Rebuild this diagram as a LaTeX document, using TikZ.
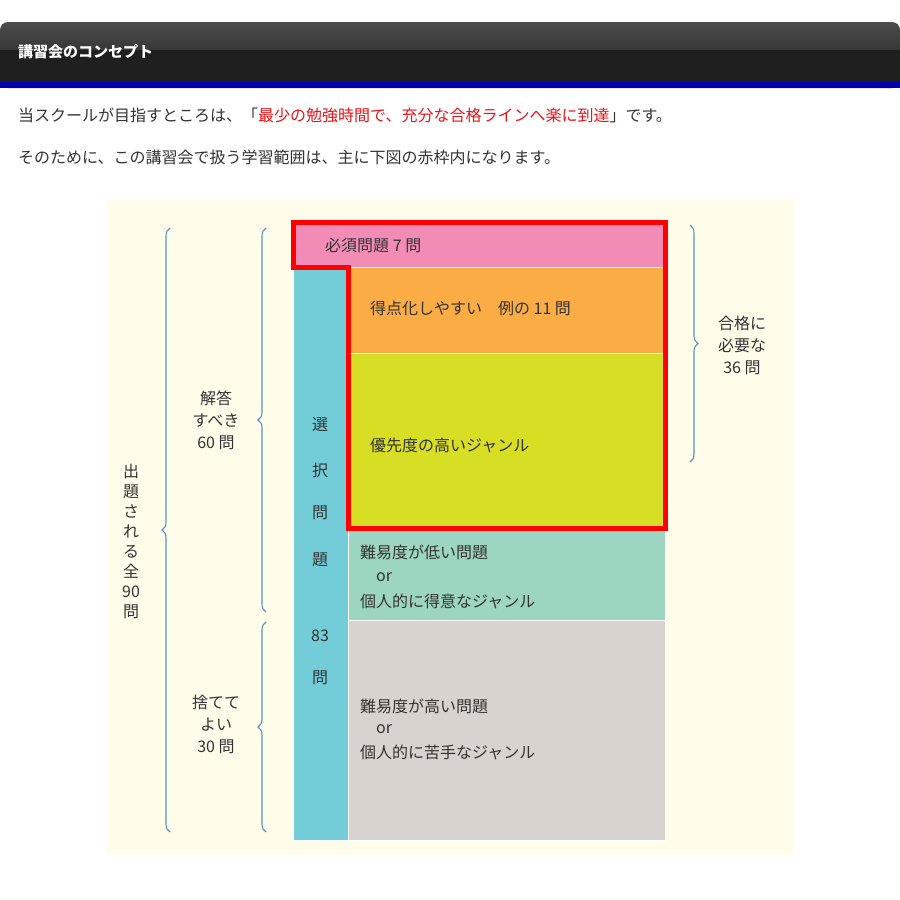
\documentclass[tikz,border=0pt]{standalone}
\usepackage{fontspec}
\setmainfont{Noto Sans CJK JP}
\usetikzlibrary{decorations.pathreplacing}
\definecolor{cream}{HTML}{FFFDEA}
\definecolor{pinkc}{HTML}{F28BB5}
\definecolor{tealc}{HTML}{72CDD9}
\definecolor{orangec}{HTML}{FBAC45}
\definecolor{limec}{HTML}{D7DE23}
\definecolor{mintc}{HTML}{9DD6C0}
\definecolor{grayc}{HTML}{D9D3D0}
\definecolor{bracec}{HTML}{5B8FC8}
\definecolor{txt}{HTML}{333333}
\definecolor{redt}{HTML}{E8141B}
\tikzset{
 lbl/.style={font=\fontsize{16}{20}\selectfont, text=txt, anchor=west, inner sep=0},
 ctr/.style={font=\fontsize{16}{22}\selectfont, text=txt, align=center, inner sep=0},
 br/.style={draw=bracec, line width=1.1pt, decorate, decoration={brace, amplitude=8pt}},
 blk/.style={draw=white, line width=0.6pt}
}
\begin{document}
\begin{tikzpicture}[x=1pt,y=-1pt]
\useasboundingbox (0,0) rectangle (900,900);
\fill[white] (0,0) rectangle (900,900);
% header
\shade[top color=gray!60!black, bottom color=black!90, rounded corners=8pt] (0,88) -- (0,22) -- (900,22) -- (900,88) -- cycle;
\fill[black!88] (0,50) rectangle (900,82);
\fill[blue!70!black] (0,82) rectangle (900,88);
\node[anchor=west, text=white, font=\bfseries\fontsize{15}{18}\selectfont, inner sep=0] (title) at (18,52) {講習会のコンセプト};
\node[anchor=west, text=txt, font=\fontsize{16}{20}\selectfont, inner sep=0] (l1) at (18,115) {当スクールが目指すところは、「\textcolor{redt}{最少の勉強時間で、充分な合格ラインへ楽に到達}」です。};
\node[anchor=west, text=txt, font=\fontsize{16}{20}\selectfont, inner sep=0] (l2) at (18,157) {そのために、この講習会で扱う学習範囲は、主に下図の赤枠内になります。};
% diagram
\fill[cream] (107,200) rectangle (793,855);
\fill[blk, fill=pinkc] (293,222) rectangle (665,267);
\fill[blk, fill=tealc] (293,267) rectangle (348,840);
\fill[blk, fill=orangec] (348,267) rectangle (665,353);
\fill[blk, fill=limec] (348,353) rectangle (665,528);
\fill[blk, fill=mintc] (348,528) rectangle (665,620);
\fill[blk, fill=grayc] (348,620) rectangle (665,840);
\draw[red, line width=5pt, line join=miter] (293,222) -- (665,222) -- (665,528) -- (348,528) -- (348,267) -- (293,267) -- cycle;
% box texts
\node[lbl] (t1) at (325,245) {必須問題 7 問};
\node[lbl] (t2) at (370,308) {得点化しやすい　例の 11 問};
\node[lbl] (t3) at (370,445) {優先度の高いジャンル};
\node[lbl] (t4) at (360,552) {難易度が低い問題};
\node[lbl] (t5) at (376,577) {or};
\node[lbl] (t6) at (360,601) {個人的に得意なジャンル};
\node[lbl] (t7) at (360,706) {難易度が高い問題};
\node[lbl] (t8) at (376,729) {or};
\node[lbl] (t9) at (360,752) {個人的に苦手なジャンル};
% teal column
\foreach \c/\y in {選/425,択/470,問/513,題/560,83/636,問/678}{
 \node[ctr] at (320,\y) {\c};
}
% braces
\coordinate (b1a) at (170,832); \coordinate (b1b) at (170,228);
\draw[br] (b1a) -- (b1b);
\coordinate (b2a) at (266,612); \coordinate (b2b) at (266,228);
\draw[br] (b2a) -- (b2b);
\coordinate (b3a) at (266,832); \coordinate (b3b) at (266,622);
\draw[br] (b3a) -- (b3b);
\coordinate (b4a) at (690,225); \coordinate (b4b) at (690,462);
\draw[br] (b4a) -- (b4b);
% brace labels
\node[ctr] (n60) at (216,420) {解答\\すべき\\60 問};
\node[ctr] (n30) at (216,724) {捨てて\\よい\\30 問};
\node[ctr] (n36) at (742,345) {合格に\\必要な\\36 問};
\node[ctr, font=\fontsize{16}{20}\selectfont] (n90) at (131,541) {出\\題\\さ\\れ\\る\\全\\90\\問};
\end{tikzpicture}
\end{document}
